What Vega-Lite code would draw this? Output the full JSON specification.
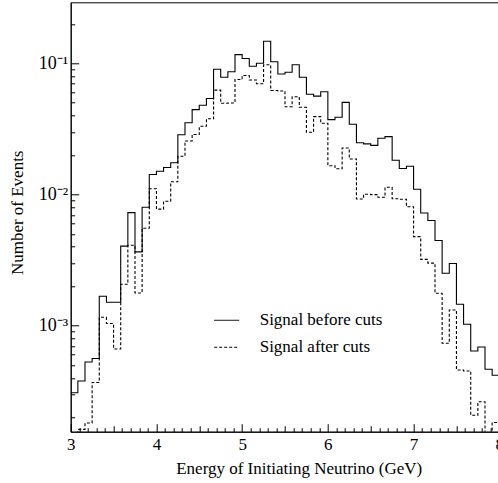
{
  "$schema": "https://vega.github.io/schema/vega-lite/v6.json",
  "autosize": {"type": "none"},
  "padding": {"left": 70.7, "top": 2.3, "right": 0, "bottom": 51},
  "width": 428.6,
  "height": 429.4,
  "config": {
    "view": {"stroke": "black", "strokeWidth": 1},
    "font": "Liberation Serif",
    "axis": {"grid": false, "domainColor": "black", "tickColor": "black", "labelColor": "black", "titleColor": "black", "labelFont": "Liberation Serif", "titleFont": "Liberation Serif", "labelFontSize": 17, "titleFontSize": 17, "titleFontWeight": "normal"}
  },
  "data": {
    "values": [
      {"E": 3.0, "Signal before cuts": 3.08e-4, "Signal after cuts": 1.3e-4},
      {"E": 3.0833, "Signal before cuts": 3.79e-4, "Signal after cuts": 1.62e-4},
      {"E": 3.1667, "Signal before cuts": 5.29e-4, "Signal after cuts": 1.81e-4},
      {"E": 3.25, "Signal before cuts": 5.62e-4, "Signal after cuts": 3.69e-4},
      {"E": 3.3333, "Signal before cuts": 1.675e-3, "Signal after cuts": 1.159e-3},
      {"E": 3.4167, "Signal before cuts": 1.51e-3, "Signal after cuts": 1.039e-3},
      {"E": 3.5, "Signal before cuts": 1.51e-3, "Signal after cuts": 6.65e-4},
      {"E": 3.5833, "Signal before cuts": 4.04e-3, "Signal after cuts": 2.07e-3},
      {"E": 3.6667, "Signal before cuts": 7.27e-3, "Signal after cuts": 4.1e-3},
      {"E": 3.75, "Signal before cuts": 3.65e-3, "Signal after cuts": 1.775e-3},
      {"E": 3.8333, "Signal before cuts": 7.99e-3, "Signal after cuts": 5.53e-3},
      {"E": 3.9167, "Signal before cuts": 0.0142, "Signal after cuts": 0.01107},
      {"E": 4.0, "Signal before cuts": 0.01502, "Signal after cuts": 7.73e-3},
      {"E": 4.0833, "Signal before cuts": 0.01606, "Signal after cuts": 8.88e-3},
      {"E": 4.1667, "Signal before cuts": 0.01747, "Signal after cuts": 0.0125},
      {"E": 4.25, "Signal before cuts": 0.02855, "Signal after cuts": 0.01955},
      {"E": 4.3333, "Signal before cuts": 0.03526, "Signal after cuts": 0.02557},
      {"E": 4.4167, "Signal before cuts": 0.04438, "Signal after cuts": 0.02866},
      {"E": 4.5, "Signal before cuts": 0.04785, "Signal after cuts": 0.0331},
      {"E": 4.5833, "Signal before cuts": 0.05391, "Signal after cuts": 0.03776},
      {"E": 4.6667, "Signal before cuts": 0.09, "Signal after cuts": 0.0624},
      {"E": 4.75, "Signal before cuts": 0.0783, "Signal after cuts": 0.0496},
      {"E": 4.8333, "Signal before cuts": 0.0861, "Signal after cuts": 0.0498},
      {"E": 4.9167, "Signal before cuts": 0.1165, "Signal after cuts": 0.0752},
      {"E": 5.0, "Signal before cuts": 0.1088, "Signal after cuts": 0.0807},
      {"E": 5.0833, "Signal before cuts": 0.095, "Signal after cuts": 0.0746},
      {"E": 5.1667, "Signal before cuts": 0.1, "Signal after cuts": 0.0699},
      {"E": 5.25, "Signal before cuts": 0.1471, "Signal after cuts": 0.0974},
      {"E": 5.3333, "Signal before cuts": 0.1027, "Signal after cuts": 0.062},
      {"E": 5.4167, "Signal before cuts": 0.0829, "Signal after cuts": 0.0615},
      {"E": 5.5, "Signal before cuts": 0.0854, "Signal after cuts": 0.0467},
      {"E": 5.5833, "Signal before cuts": 0.0974, "Signal after cuts": 0.0556},
      {"E": 5.6667, "Signal before cuts": 0.0782, "Signal after cuts": 0.0462},
      {"E": 5.75, "Signal before cuts": 0.0581, "Signal after cuts": 0.0298},
      {"E": 5.8333, "Signal before cuts": 0.0562, "Signal after cuts": 0.0392},
      {"E": 5.9167, "Signal before cuts": 0.0607, "Signal after cuts": 0.0349},
      {"E": 6.0, "Signal before cuts": 0.0372, "Signal after cuts": 0.01658},
      {"E": 6.0833, "Signal before cuts": 0.0388, "Signal after cuts": 0.01573},
      {"E": 6.1667, "Signal before cuts": 0.0504, "Signal after cuts": 0.0226},
      {"E": 6.25, "Signal before cuts": 0.0343, "Signal after cuts": 0.01865},
      {"E": 6.3333, "Signal before cuts": 0.0248, "Signal after cuts": 9.24e-3},
      {"E": 6.4167, "Signal before cuts": 0.0243, "Signal after cuts": 0.01005},
      {"E": 6.5, "Signal before cuts": 0.0237, "Signal after cuts": 9.97e-3},
      {"E": 6.5833, "Signal before cuts": 0.0268, "Signal after cuts": 9.52e-3},
      {"E": 6.6667, "Signal before cuts": 0.0276, "Signal after cuts": 0.01135},
      {"E": 6.75, "Signal before cuts": 0.01826, "Signal after cuts": 9.27e-3},
      {"E": 6.8333, "Signal before cuts": 0.01579, "Signal after cuts": 9.2e-3},
      {"E": 6.9167, "Signal before cuts": 0.01643, "Signal after cuts": 8.07e-3},
      {"E": 7.0, "Signal before cuts": 0.01095, "Signal after cuts": 4.77e-3},
      {"E": 7.0833, "Signal before cuts": 7.23e-3, "Signal after cuts": 3.2e-3},
      {"E": 7.1667, "Signal before cuts": 6.34e-3, "Signal after cuts": 3.0e-3},
      {"E": 7.25, "Signal before cuts": 4.46e-3, "Signal after cuts": 1.766e-3},
      {"E": 7.3333, "Signal before cuts": 2.51e-3, "Signal after cuts": 7.34e-4},
      {"E": 7.4167, "Signal before cuts": 2.98e-3, "Signal after cuts": 1.317e-3},
      {"E": 7.5, "Signal before cuts": 1.456e-3, "Signal after cuts": 4.6e-4},
      {"E": 7.5833, "Signal before cuts": 1.025e-3, "Signal after cuts": 4.52e-4},
      {"E": 7.6667, "Signal before cuts": 6.42e-4, "Signal after cuts": 2.075e-4},
      {"E": 7.75, "Signal before cuts": 6.88e-4, "Signal after cuts": 2.63e-4},
      {"E": 7.8333, "Signal before cuts": 4.66e-4, "Signal after cuts": 1.3e-4},
      {"E": 7.9167, "Signal before cuts": 4.19e-4, "Signal after cuts": 1.83e-4},
      {"E": 8.0, "Signal before cuts": 4.19e-4, "Signal after cuts": 1.83e-4}
    ]
  },
  "transform": [{"fold": ["Signal before cuts", "Signal after cuts"], "as": ["series", "n"]}],
  "mark": {"type": "line", "interpolate": "step-after", "clip": true, "color": "black", "strokeWidth": 1.1},
  "encoding": {
    "x": {
      "field": "E", "type": "quantitative",
      "scale": {"domain": [3, 8], "nice": false, "zero": false},
      "axis": {
        "title": "Energy of Initiating Neutrino (GeV)",
        "values": [3,3.1,3.2,3.3,3.4,3.5,3.6,3.7,3.8,3.9,4,4.1,4.2,4.3,4.4,4.5,4.6,4.7,4.8,4.9,5,5.1,5.2,5.3,5.4,5.5,5.6,5.7,5.8,5.9,6,6.1,6.2,6.3,6.4,6.5,6.6,6.7,6.8,6.9,7,7.1,7.2,7.3,7.4,7.5,7.6,7.7,7.8,7.9,8],
        "labelExpr": "abs(datum.value - round(datum.value)) < 0.001 ? format(datum.value, 'd') : ''",
        "labelOverlap": false,
        "labelBound": false,
        "labelFlush": false,
        "labelPadding": 13,
        "tickSize": {"condition": [{"test": "abs(datum.value - round(datum.value)) < 0.001", "value": -8}, {"test": "abs(datum.value*2 - round(datum.value*2)) < 0.001", "value": -6}], "value": -4},
        "titleX": 228,
        "titleY": 42,
        "titleBaseline": "alphabetic"
      }
    },
    "y": {
      "field": "n", "type": "quantitative",
      "scale": {"type": "log", "domain": [1.556e-4, 0.2917], "nice": false},
      "axis": {
        "title": "Number of Events",
        "values": [0.0002,0.0003,0.0004,0.0005,0.0006,0.0007,0.0008,0.0009,0.001,0.002,0.003,0.004,0.005,0.006,0.007,0.008,0.009,0.01,0.02,0.03,0.04,0.05,0.06,0.07,0.08,0.09,0.1,0.2],
        "labelExpr": "abs(log(datum.value)/LN10 - round(log(datum.value)/LN10)) < 0.001 ? ('10' + (round(log(datum.value)/LN10) == -1 ? '⁻¹' : round(log(datum.value)/LN10) == -2 ? '⁻²' : '⁻³')) : ''",
        "labelOverlap": false,
        "labelBound": false,
        "labelFlush": false,
        "labelFontSize": 18,
        "labelPadding": 11,
        "labelBaseline": "middle",
        "tickSize": {"condition": {"test": "abs(log(datum.value)/LN10 - round(log(datum.value)/LN10)) < 0.001", "value": -8}, "value": -4},
        "titleX": -53,
        "titleY": 210,
        "titleBaseline": "middle"
      }
    },
    "strokeDash": {
      "field": "series", "type": "nominal",
      "scale": {"domain": ["Signal before cuts", "Signal after cuts"], "range": [[1, 0], [3, 2]]},
      "legend": {
        "title": null,
        "orient": "none",
        "legendX": 143,
        "legendY": 305,
        "padding": 0,
        "symbolType": "stroke",
        "symbolSize": 625,
        "symbolStrokeWidth": 1,
        "symbolStrokeColor": "black",
        "labelFont": "Liberation Serif",
        "labelFontSize": 17,
        "labelColor": "black",
        "labelOffset": 20,
        "rowPadding": 6
      }
    }
  }
}
